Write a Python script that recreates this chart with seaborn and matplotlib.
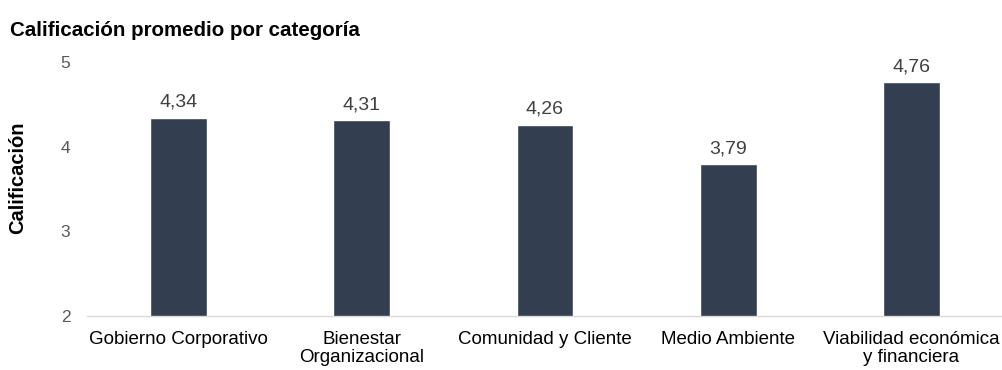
import matplotlib
matplotlib.use("Agg")
import matplotlib.pyplot as plt
import seaborn as sns
import pandas as pd
import numpy as np

categories = ["Gobierno Corporativo", "Bienestar\nOrganizacional", "Comunidad y Cliente",
              "Medio Ambiente", "Viabilidad económica\ny financiera"]
values = [4.34, 4.31, 4.26, 3.79, 4.76]
yticks = [2, 3, 4, 5]

sns.set_theme(style="white")
plt.rcParams['font.family'] = ['Liberation Sans', 'DejaVu Sans']

df = pd.DataFrame({"cat": categories, "val": values})

fig = plt.figure(figsize=(10.03, 3.70), dpi=100)
ax = fig.add_axes([87/1003, 1-316/370, 916/1003, (316-62)/370])
sns.barplot(data=df, x="cat", y="val", color="#333f50", width=0.31, ax=ax, saturation=1)

ax.set_ylim(2, 5)
ax.set_xlim(-0.5, len(categories)-0.5)
ax.set_yticks(yticks)
ax.set_yticklabels([str(t) for t in yticks], fontsize=12.5, color="#595959")
ax.tick_params(axis="y", length=0, pad=12)
ax.set_xticks(range(len(categories)))
ax.set_xticklabels(categories, fontsize=13.5, color="#000000", linespacing=1.05)
ax.tick_params(axis="x", which="major", length=0, pad=11)
ax.set_xticks(np.arange(-0.5, len(categories), 1.0), minor=True)
ax.tick_params(axis="x", which="minor", length=5, color="#d9d9d9", width=1)

for s in ["top", "right", "left"]:
    ax.spines[s].set_visible(False)
ax.spines["bottom"].set_color("#d9d9d9")
ax.spines["bottom"].set_linewidth(1)

for i, v in enumerate(values):
    ax.annotate(f"{v:.2f}".replace(".", ","), (i, v), xytext=(0, 5), textcoords="offset points",
                ha="center", va="bottom", fontsize=14, color="#404040")

ax.set_xlabel("")
ax.set_ylabel("Calificación", fontsize=14.5, fontweight="bold", color="#000000")
ax.yaxis.set_label_coords(-(87-27)/916, (316-178)/254)
fig.text(10/1003, 1-31/370, "Calificación promedio por categoría", fontsize=14.8,
         fontweight="bold", color="#000000", va="center", ha="left")

fig.savefig("out.png", dpi=100)
